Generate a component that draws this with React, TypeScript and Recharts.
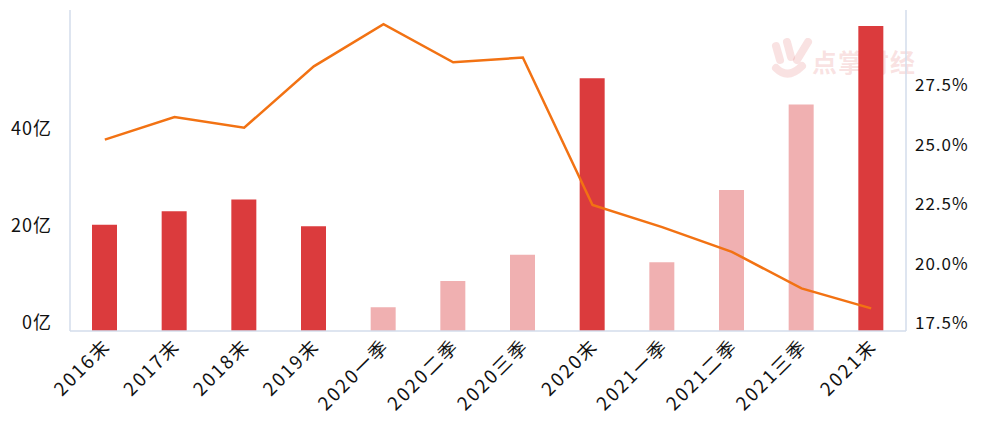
import React from 'react';
import { ComposedChart, Bar, Line, XAxis, YAxis, Cell } from 'recharts';

const categories = [
  '2016末', '2017末', '2018末', '2019末',
  '2020一季', '2020二季', '2020三季', '2020末',
  '2021一季', '2021二季', '2021三季', '2021末',
];

// 亿
const amounts = [21.9, 24.7, 27.1, 21.6, 4.9, 10.3, 15.7, 52.1, 14.2, 29.1, 46.7, 62.9];

// %
const ratios = [25.55, 26.5, 26.05, 28.63, 30.4, 28.8, 29.0, 22.8, 21.87, 20.83, 19.29, 18.45];

const leftTicks = [0, 20, 40];
const rightTicks = [17.5, 20, 22.5, 25, 27.5];

const data = categories.map((name, i) => ({ name, amount: amounts[i], ratio: ratios[i] }));

const FONT = '"Noto Sans CJK SC", "Noto Sans", sans-serif';
const DARK = '#DB3B3D';
const LIGHT = '#F0B0B1';
const AXIS = '#D3DCEB';

const LeftTick = (props: any) => {
  const { y, payload } = props;
  return (
    <text x={52} y={y} dy={-2} textAnchor="end" fontSize={18} fill="#111" fontFamily={FONT} letterSpacing={1}>
      {payload.value}亿
    </text>
  );
};

const RightTick = (props: any) => {
  const { y, payload } = props;
  return (
    <text x={915} y={y} dy={-2} textAnchor="start" fontSize={17} fill="#111" fontFamily={FONT} letterSpacing={1}>
      {payload.value.toFixed(1)}%
    </text>
  );
};

const BottomTick = (props: any) => {
  const { x, payload } = props;
  return (
    <g transform={`translate(${x + 7},${347})`}>
      <text textAnchor="end" transform="rotate(-45)" fontSize={18.5} fill="#111" fontFamily={FONT} letterSpacing={2.2}>
        {payload.value}
      </text>
    </g>
  );
};

const Watermark = () => (
  <div style={{ position: 'absolute', left: 770, top: 38, width: 140, height: 40 }}>
    <svg width={44} height={42} style={{ position: 'absolute', left: 0, top: 0 }}>
      <g stroke="rgba(232,140,140,0.25)" strokeWidth={8} strokeLinecap="round" fill="none">
        <line x1={6} y1={8} x2={10} y2={22} />
        <line x1={17} y1={4} x2={21} y2={19} />
        <line x1={38} y1={4} x2={27} y2={22} />
        <path d="M6 30 Q18 42 32 28" />
      </g>
    </svg>
    <div
      style={{
        position: 'absolute',
        left: 42,
        top: 8,
        fontFamily: FONT,
        fontWeight: 700,
        fontSize: 25,
        lineHeight: '30px',
        whiteSpace: 'nowrap',
        color: 'rgba(232,140,140,0.25)',
        letterSpacing: 1,
      }}
    >
      点掌财经
    </div>
  </div>
);

export default function App() {
  return (
    <div style={{ position: 'absolute', top: 0, left: 0, width: 1008, height: 430, background: '#fff' }}>
      <Watermark />
      <div style={{ position: 'absolute', top: 0, left: 0 }}>
        <ComposedChart
          width={1008}
          height={430}
          data={data}
          margin={{ top: 10, right: 0, bottom: 0, left: 0 }}
          barCategoryGap={0}
        >
          <XAxis
            dataKey="name"
            height={99}
            interval={0}
            tickLine={false}
            axisLine={{ stroke: AXIS, strokeWidth: 1.5 }}
            tick={<BottomTick />}
          />
          <YAxis
            yAxisId="left"
            orientation="left"
            width={70}
            domain={[0, 66.2]}
            allowDataOverflow
            ticks={leftTicks}
            tickLine={false}
            axisLine={{ stroke: AXIS, strokeWidth: 1.5 }}
            tick={<LeftTick />}
          />
          <YAxis
            yAxisId="right"
            orientation="right"
            width={102}
            domain={[17.5, 31]}
            allowDataOverflow
            ticks={rightTicks}
            tickLine={false}
            axisLine={{ stroke: AXIS, strokeWidth: 1.5 }}
            tick={<RightTick />}
          />
          <Bar yAxisId="left" dataKey="amount" barSize={25} isAnimationActive={false}>
            {data.map((d) => (
              <Cell key={d.name} fill={d.name.endsWith('末') ? DARK : LIGHT} />
            ))}
          </Bar>
          <Line
            yAxisId="right"
            dataKey="ratio"
            type="linear"
            stroke="#F27213"
            strokeWidth={2.5}
            dot={false}
            isAnimationActive={false}
          />
        </ComposedChart>
      </div>
    </div>
  );
}
